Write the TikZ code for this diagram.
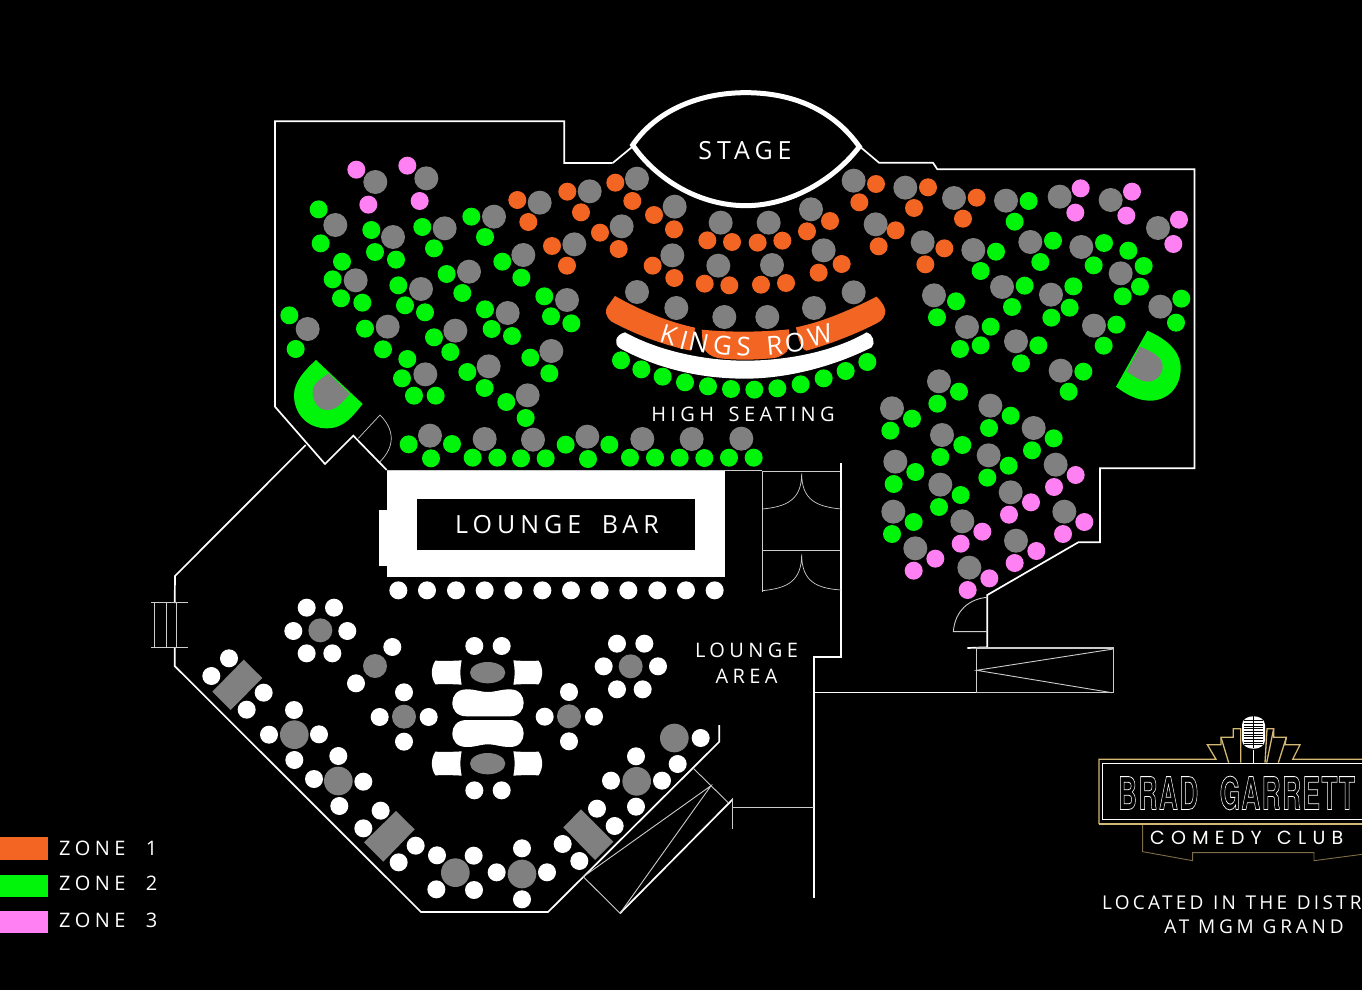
\documentclass[tikz,border=0pt]{standalone}
\usepackage{fontspec}
\setmainfont{Open Sans}
\newfontfamily\lab[LetterSpace=22]{Open Sans}
\newfontfamily\labw[LetterSpace=20]{Open Sans}
\newfontfamily\labl[LetterSpace=17]{Open Sans}
\newfontfamily\deco[LetterSpace=6]{TeX Gyre Heros}
\newfontfamily\decow[LetterSpace=33]{Poppins}
\definecolor{zone1}{HTML}{F26522}
\definecolor{zone2}{HTML}{00F50A}
\definecolor{zone3}{HTML}{FF80F2}
\definecolor{seat}{HTML}{808080}
\definecolor{gold}{HTML}{D2B874}
\newcommand\seats[3]{\foreach \x/\y in {#3} {\fill[#1] (\x,\y) circle[radius=#2];}}
\tikzset{
  zm/.style 2 args={shift={(#1,#2)},x=0.33333pt,y=-0.33333pt},
  wall/.style={draw=white,line width=1.7pt,line join=miter},
  thin wall/.style={draw=white!80!black,line width=0.9pt},
  label text/.style={text=white,inner sep=0pt,font=\lab},
}
\begin{document}
\begin{tikzpicture}[x=1pt,y=-1pt]
\fill[black] (0,0) rectangle (1362,990);
\useasboundingbox (0,0) rectangle (1362,990);
\clip (0,0) rectangle (1362,990);

% --- walls
\draw[wall] (612.7,163) -- (564.3,163) -- (564.3,121.3) -- (275,121.3) -- (275,406.7) -- (325,464) -- (353.3,435.7) -- (386.7,470);
\draw[wall] (612.7,163) -- (631.7,147.3);
\draw[wall] (860,146.7) -- (879,162.7) -- (933,162.7) -- (937.3,169.3) -- (1194.5,169.3) -- (1194.5,468.3) -- (1100,468.3) -- (1100,542.3) -- (1078.3,542.3) -- (987.3,595) -- (987.3,647.3) -- (967.3,648);
\draw[wall] (305.7,445) -- (175,576) -- (174.7,603);
\draw[wall] (174.7,647) -- (174.7,666) -- (421,912) -- (548,912) -- (719.3,741.7) -- (719.3,725);
\draw[thin wall] (387,470.7) -- (762.3,470.7);
\draw[wall] (841,463) -- (841,657) -- (814,657) -- (814,898);
\draw[wall] (814,692.5) -- (976.7,692.5);
\draw[wall] (620,913.3) -- (732.7,799.3);
\draw[thin wall,line width=1.5pt] (732.7,798.3) -- (732.7,829.3);
\draw[thin wall,line width=1.3pt] (733,807.7) -- (814,807.7);
\draw[thin wall] (583.3,876.7) -- (620,913.3);
\draw[thin wall] (693.3,768.3) -- (728.3,802.7);
\draw[thin wall] (583.3,876.7) -- (711,785.7) -- (620,913.3);
% ramp box
\draw[thin wall,line width=1.2pt] (976.7,648) rectangle (1113.3,692.7);
\draw[thin wall] (1113.3,649) -- (976.7,670.3) -- (1112,692.7);
% right-hand door
\begin{scope}[zm={860}{360}]
\draw[thin wall] (382,712) .. controls (330,716) and (285,750) .. (280,815) -- (382,815);
\end{scope}
% left door
\begin{scope}[zm={270}{90}]
\draw[thin wall,line width=.7pt] (265,1045) -- (330,975) .. controls (375,1020) and (375,1070) .. (330,1115);
\end{scope}
% rails at west door
\begin{scope}[zm={140}{590}]
\draw[thin wall] (32,38) -- (145,38) (32,172) -- (145,172) (44,38) -- (44,172) (79,38) -- (79,172) (110,38) -- (110,172);
\end{scope}
% double doors
\begin{scope}[zm={360}{400}]
\draw[thin wall] (1207,212) -- (1207,575) (1207,215) -- (1443,215) (1207,452) -- (1443,452);
\draw[wall,line width=1.2pt] (1443,190) -- (1443,660);
\draw[thin wall,line width=.7pt] (1207,327) .. controls (1280,320) and (1325,300) .. (1325,220) .. controls (1325,300) and (1370,320) .. (1443,327);
\draw[thin wall,line width=.7pt] (1207,572) .. controls (1280,565) and (1325,545) .. (1325,463) .. controls (1325,545) and (1370,565) .. (1443,570);
\fill[white] (82,212) rectangle (1094,532);
\fill[white] (57,330) rectangle (82,498);
\fill[black] (170,296) rectangle (1006,451);
\seats{white}{27}{115/571,201/571,288/571,374/571,460/571,547/571,633/571,719/571,805/571,892/571,978/571,1064/571}
\seats{seat}{36}{210/107,374/117,519/119,682/110,847/117,995/117,1144/116}
\seats{zone2}{27}{146/133,276/132,213/175,338/173,412/173,483/175,557/175,617/134,748/134,684/177,810/173,885/173,959/173,1033/174,1107/173,1181/173}
\end{scope}

% --- west block of seats
\begin{scope}[zm={270}{90}]
\seats{seat}{36}{316/276,469/265,196/405,369/441,524/415,672/380,809/338,959/304,913/463,760/495,597/545,257/571,453/597,891/630,713/669,353/710,556/722,113/717,844/783,656/829,466/853,773/916}
\seats{zone3}{27}{259/239,412/227,295/344,449/333}
\seats{zone2}{27}{146/358,152/460,304/420,315/486,378/509,457/411,492/475,604/380,645/441,697/515,754/563,530/552,577/609,216/515,188/568,213/625,277/638,385/586,405/646,465/667,823/619,843/679,904/700,645/658,665/717,726/738,58/676,77/777,285/716,339/778,492/742,541/786,412/807,396/865,432/917,497/917,592/846,644/894,781/803,838/850,709/936,767/984}
\fill[zone2] (138,810) -- (278,942) .. controls (250,975) and (225,1015) .. (170,1015) .. controls (110,1015) and (72,970) .. (72,915) .. controls (72,875) and (105,840) .. (138,810) -- cycle;
\fill[seat] (175,850) -- (240,912) .. controls (215,935) and (205,960) .. (170,960) .. controls (145,960) and (128,935) .. (128,905) .. controls (128,880) and (150,870) .. (175,850) -- cycle;
\end{scope}

% --- centre block
\begin{scope}[zm={500}{90}]
\draw[white,line width=5pt] (398,165) .. controls (470,60) and (600,8) .. (737,8) .. controls (880,8) and (1000,60) .. (1078,170) .. controls (1010,260) and (880,347) .. (737,347) .. controls (600,347) and (470,270) .. (398,165) -- cycle;
\seats{seat}{36}{411/266,524/350,365/409,662/398,806/398,933/358,517/496,655/527,816/525,971/481,1061/272,1127/403,411/606,529/654,673/681,802/681,942/654,1061/607}
\seats{zone1}{27}{52/330,85/396,202/305,243/367,300/428,156/468,201/527,346/278,397/333,462/375,522/418,356/477,622/451,696/456,773/458,847/452,921/424,990/393,458/527,523/564,614/581,688/586,783/584,858/579,956/548,1025/522,1128/282,1078/337,1136/469,1187/421}
\seats{zone2}{27}{363/811,424/838,488/860,555/877,624/889,693/897,763/899,832/895,902/883,971/865,1037/843,1102/816}
% white crescent
\fill[white] (375,727) .. controls (480,785) and (620,812) .. (735,812) .. controls (860,812) and (1000,785) .. (1100,727) .. controls (1118,730) and (1128,760) .. (1115,772) .. controls (1000,830) and (860,866) .. (735,866) .. controls (600,866) and (470,835) .. (360,775) .. controls (340,762) and (345,735) .. (375,727) -- cycle;
% Kings Row
\fill[zone1] (345,618) .. controls (420,660) and (500,695) .. (585,713) .. controls (582,745) and (578,765) .. (572,782) .. controls (490,765) and (410,735) .. (335,695) .. controls (315,680) and (315,660) .. (322,650) -- cycle;
\fill[zone1] (605,719) .. controls (690,727) and (780,727) .. (867,718) .. controls (870,745) and (868,775) .. (860,785) .. controls (845,800) and (830,805) .. (800,806) .. controls (760,810) and (700,810) .. (660,805) .. controls (625,800) and (610,780) .. (608,760) -- cycle;
\fill[zone1] (888,712) .. controls (970,695) and (1050,660) .. (1130,620) .. controls (1150,640) and (1160,660) .. (1155,672) .. controls (1150,690) and (1140,695) .. (1120,705) .. controls (1060,735) and (990,762) .. (920,782) .. controls (905,780) and (895,750) .. (888,712) -- cycle;
\foreach \t/\a/\b/\r [count=\i] in {K/506/734/-17,I/552/750/-15,N/597/757/-12,G/668/767/-7,S/731/769/-3,R/824/766/5,O/885/757/9,W/960/737/15}
  {\node[text=white,inner sep=0pt,font=\fontsize{26}{26}\selectfont,rotate=\r] (kr\i) at (\a,\b) {\t};}
\end{scope}

% --- east block
\begin{scope}[zm={860}{160}]
\seats{seat}{36}{136/83,282/114,438/122,599/110,752/120,894/204,188/247,340/270,511/246,664/261,782/340,426/381,573/404,901/440,702/497,222/406,321/501,468/544,602/632}
\seats{zone1}{27}{204/82,162/144,350/113,309/176,253/265,196/313}
\seats{zone3}{27}{662/85,646/158,816/95,799/167,957/179,940/252}
\seats{zone2}{27}{506/123,464/185,579/242,541/306,732/249,701/316,805/272,851/318,840/380,788/409,408/275,362/333,494/377,456/441,640/379,629/443,574/473,964/416,948/488,769/494,731/557,288/424,231/472,392/500,362/556,300/567,535/556,483/610,670/635,626/695}
\fill[zone2] (862,512) -- (768,680) .. controls (800,705) and (835,722) .. (870,722) .. controls (925,722) and (962,680) .. (962,625) .. controls (962,570) and (915,535) .. (862,512) -- cycle;
\fill[seat] (840,560) -- (800,635) .. controls (825,650) and (845,667) .. (865,665) .. controls (890,662) and (908,645) .. (908,620) .. controls (908,590) and (875,575) .. (840,560) -- cycle;
\end{scope}
\begin{scope}[zm={860}{360}]
\seats{seat}{36}{237/64,96/145,391/137,521/204,246/225,106/305,386/286,587/314,241/374,452/397,100/455,613/455,307/484,468/542,166/565,328/623}
\seats{zone2}{27}{297/95,232/131,156/176,91/212,452/167,387/204,581/235,516/271,307/255,241/291,166/336,101/372,446/317,382/353,302/405,237/441,161/486,96/522}
\seats{zone3}{27}{647/345,582/381,513/427,447/464,673/486,609/522,367/515,302/551,529/573,464/609,226/596,161/632,388/655,323/690}
\end{scope}

% --- lounge west
\begin{scope}[zm={140}{590}]
\seats{seat}{36}{541/121,705/228,792/380}
\seats{seat}{43}{463/434,595/573}
\seats{white}{27}{500/53,582/53,460/123,622/123,500/190,577/190,757/171,648/280,792/307,719/381,866/381,792/455,267/205,214/258,371/308,320/359,462/360,387/434,537/433,463/510,595/498,522/567,670/575,598/648,722/662,670/715,827/767,776/817}
\fill[seat] (311,209) -- (367,264) -- (272,360) -- (217,305) -- cycle;
\fill[seat] (768,663) -- (824,718) -- (730,815) -- (672,757) -- cycle;
\end{scope}
% --- lounge east
\begin{scope}[zm={420}{620}]
\seats{seat}{43}{106/758,306/762,650/484,763/354}
\seats{seat}{36}{632/139,447/289}
\seats{white}{27}{51/706,161/707,49/808,162/810,306/685,230/757,381/757,306/838,531/566,584/618,428/672,478/723,648/409,573/482,726/482,648/560,842/354,773/432,591/71,673/71,551/139,714/139,591/208,668/208,447/216,374/290,522/290,447/364,163/78,245/78,163/511,245/511}
\fill[seat] (483,568) -- (580,665) -- (525,720) -- (430,622) -- cycle;
\fill[seat] (203,158) ellipse[x radius=53,y radius=32];
\fill[seat] (203,431) ellipse[x radius=53,y radius=32];
\foreach \dy in {0,273} {
  \fill[white] (125,121+\dy) .. controls (95,123+\dy) and (70,123+\dy) .. (46,122+\dy) .. controls (32,145+\dy) and (32,170+\dy) .. (46,193+\dy) .. controls (70,192+\dy) and (95,192+\dy) .. (125,194+\dy) .. controls (120,170+\dy) and (120,145+\dy) .. (125,121+\dy) -- cycle;
  \fill[white] (280,121+\dy) .. controls (305,123+\dy) and (330,123+\dy) .. (356,122+\dy) .. controls (370,145+\dy) and (370,170+\dy) .. (356,193+\dy) .. controls (330,192+\dy) and (305,192+\dy) .. (280,194+\dy) .. controls (285,170+\dy) and (285,145+\dy) .. (280,121+\dy) -- cycle;
}
\fill[white] (140,208) .. controls (170,208) and (180,216) .. (204,216) .. controls (228,216) and (240,208) .. (270,208) .. controls (298,208) and (311,228) .. (311,248) .. controls (311,270) and (298,289) .. (270,289) -- (140,289) .. controls (110,289) and (97,270) .. (97,248) .. controls (97,228) and (110,208) .. (140,208) -- cycle;
\fill[white] (140,300) -- (270,300) .. controls (298,300) and (311,320) .. (311,340) .. controls (311,362) and (298,381) .. (270,381) .. controls (240,381) and (228,373) .. (204,373) .. controls (180,373) and (170,381) .. (140,381) .. controls (110,381) and (97,362) .. (97,340) .. controls (97,320) and (110,300) .. (140,300) -- cycle;
\end{scope}

% --- labels
\node[label text,font=\labw\fontsize{25}{25}\selectfont] (stage) at (745,151) {STAGE};
\node[label text,font=\labw\fontsize{25}{25}\selectfont] (bar) at (557,525) {LOUNGE \hspace{9pt}BAR};
\node[label text,font=\lab\fontsize{20}{20}\selectfont] (high) at (743,414) {HIGH \hspace{5pt}SEATING};
\node[label text,font=\lab\fontsize{20}{20}\selectfont] (l1) at (746.5,650) {LOUNGE};
\node[label text,font=\lab\fontsize{20}{20}\selectfont] (l2) at (746.5,676.5) {AREA};

% --- legend
\fill[zone1] (0,837) rectangle (47.5,860);
\fill[zone2] (0,875) rectangle (47.5,897);
\fill[zone3] (0,911) rectangle (47.5,933);
\node[label text,anchor=west,font=\lab\fontsize{20}{20}\selectfont] (z1) at (59,848) {ZONE \hspace{11pt}1};
\node[label text,anchor=west,font=\lab\fontsize{20}{20}\selectfont] (z2) at (59,883) {ZONE \hspace{11pt}2};
\node[label text,anchor=west,font=\lab\fontsize{20}{20}\selectfont] (z3) at (59,920) {ZONE \hspace{11pt}3};

% --- logo
\begin{scope}[zm={1090}{700}]
\draw[gold,line width=1.3pt] (900,178) -- (608,178) -- (630,134) -- (585,134) -- (589,112) -- (551,112) -- (551,86) -- (531,86) -- (525,188);
\draw[gold,line width=1.3pt] (27,372) -- (900,372);
\draw[gold,line width=1.3pt] (27,372) -- (27,178) -- (378,178) -- (352,134) -- (393,134) -- (393,112) -- (430,112) -- (430,86) -- (452,86) -- (452,188);
\draw[gold,line width=1.3pt] (393,112) -- (416,188) (589,112) -- (565,188) (551,86) -- (530,188);
\draw[white,line width=1.6pt] (900,190) -- (38,190) -- (38,358) -- (900,358);
\draw[white,line width=.9pt,fill=black] (491,190) -- (491,150);
\fill[white] (456,75) .. controls (456,40) and (525,40) .. (525,75) -- (525,120) .. controls (525,155) and (456,155) .. (456,120) -- cycle;
\foreach \yy in {62,70,78,86,94,102,110,118,126,134} {\draw[black,line width=.7pt] (462,\yy) -- (519,\yy);}
\draw[black,line width=1pt] (491,48) -- (491,145);
\draw[gold!60!black,line width=.9pt] (158,375) -- (158,455) -- (308,482) -- (308,458) -- (672,458) -- (672,482) -- (900,452);
\end{scope}
\node[anchor=west,inner sep=0pt,text=white,xscale=0.58,font=\deco\bfseries\fontsize{45}{45}\selectfont] (brand) at (1118,793) {\special{pdf:literal direct 1 Tr 0.8 w}BRAD \hspace{22pt}GARRETT\special{pdf:literal direct 0 Tr}};
\node[anchor=west,inner sep=0pt,text=white,font=\decow\fontsize{19}{19}\selectfont] (comedy) at (1150,838) {COMEDY \hspace{4pt}CLUB};
\node[anchor=west,inner sep=0pt,text=white,font=\labl\fontsize{19}{19}\selectfont] (loc) at (1102,903) {LOCATED \hspace{1.5pt}IN \hspace{1.5pt}THE \hspace{1.5pt}DISTR};
\node[inner sep=0pt,text=white,font=\labw\fontsize{19}{19}\selectfont] (mgm) at (1254,927) {AT MGM GRAND};
\end{tikzpicture}
\end{document}
